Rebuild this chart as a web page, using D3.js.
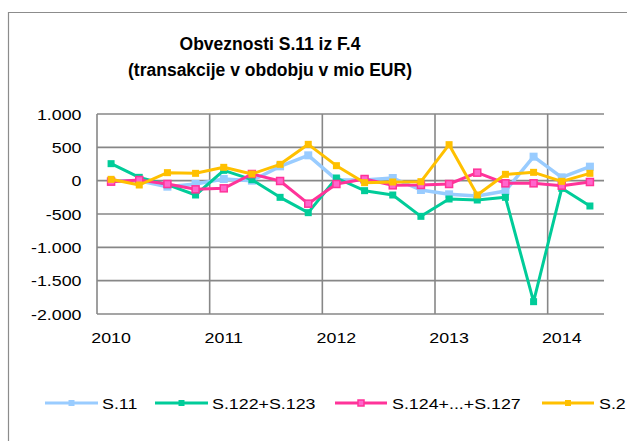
<!DOCTYPE html>
<html>
<head>
<meta charset="utf-8">
<script src="https://cdn.jsdelivr.net/npm/d3@7"></script>
<style>
  html, body { margin: 0; padding: 0; background: #fff; }
  svg { display: block; }
  text { font-family: "Liberation Sans", Arial, sans-serif; fill: #000; }
</style>
</head>
<body>
<svg id="chart" width="627" height="441"></svg>
<script>
// ---- data ----
const categories = ["2010Q1","2010Q2","2010Q3","2010Q4","2011Q1","2011Q2","2011Q3","2011Q4",
                    "2012Q1","2012Q2","2012Q3","2012Q4","2013Q1","2013Q2","2013Q3","2013Q4",
                    "2014Q1","2014Q2"];
const yearLabels = ["2010","2011","2012","2013","2014"];
const seriesNames = ["S.11","S.122+S.123","S.124+...+S.127","S.2"];
const s11   = [-5, 0, -90, -50, 25, 0, 215, 380, 15, 10, 40, -140, -205, -230, -155, 360, 50, 210];
const s122  = [255, 50, -60, -215, 155, 15, -250, -480, 40, -150, -215, -535, -275, -290, -250, -1815, -115, -380];
const s124  = [-15, 10, -50, -130, -115, 100, -5, -345, -50, 25, -70, -65, -50, 120, -40, -40, -75, -20];
const s2    = [20, -65, 120, 110, 200, 100, 245, 545, 225, -30, -20, -15, 540, -215, 95, 125, -10, 110];
const yTicks = [1000, 500, 0, -500, -1000, -1500, -2000];
const titleLines = ["Obveznosti S.11 iz F.4", "(transakcije v obdobju v mio EUR)"];

(function () {
  const styles = [
    {color: "#99CCFF", fill: "#99CCFF", stroke: "#99CCFF", size: 8, width: 3.5},
    {color: "#00CC99", fill: "#00CC99", stroke: "#00CC99", size: 7, width: 3},
    {color: "#FF3399", fill: "#FF66CC", stroke: "#FF3399", size: 7, width: 3},
    {color: "#FFC000", fill: "#FFC000", stroke: "#FFC000", size: 7, width: 3}
  ];
  const seriesData = [s11, s122, s124, s2];

  const svg = d3.select("#chart");
  const pLeft = 97, pRight = 604, pTop = 114, pBottom = 314;
  const gridColor = "#878787";

  svg.append("path")
    .attr("d", "M8.5,441 L8.5,12.5 L627,12.5")
    .attr("fill", "none").attr("stroke", "#8c8c8c").attr("stroke-width", 1.2);

  const title = svg.append("text").attr("text-anchor", "middle")
    .style("font-weight", "bold").style("font-size", "17.5px");
  title.append("tspan").attr("x", 270).attr("y", 50).text(titleLines[0]);
  title.append("tspan").attr("x", 270).attr("y", 76).text(titleLines[1]);

  const x = d3.scalePoint().domain(categories).range([pLeft, pRight]).padding(0.5);
  const step = x.step();
  const y = d3.scaleLinear().domain([-2000, 1000]).range([pBottom, pTop]);

  const loc = d3.formatLocale({decimal: ",", thousands: ".", grouping: [3], currency: ["", ""], minus: "-"});
  const fmt = loc.format(",d");

  svg.append("g").selectAll("line").data(yTicks).join("line")
    .attr("x1", pLeft).attr("x2", pRight)
    .attr("y1", d => y(d)).attr("y2", d => y(d))
    .attr("stroke", gridColor).attr("stroke-width", 1.6);

  const yearStarts = categories.filter(c => c.endsWith("Q1"));
  svg.append("g").selectAll("line").data(yearStarts).join("line")
    .attr("x1", d => x(d) - step / 2).attr("x2", d => x(d) - step / 2)
    .attr("y1", pTop).attr("y2", pBottom)
    .attr("stroke", gridColor).attr("stroke-width", 1.6);

  svg.append("g").selectAll("text").data(yTicks).join("text")
    .attr("transform", d => `translate(81.5,${y(d) + 5.5}) scale(1.15,1)`)
    .attr("text-anchor", "end").style("font-size", "15.5px")
    .text(d => fmt(d));

  svg.append("g").selectAll("text").data(yearStarts).join("text")
    .attr("transform", d => `translate(${x(d)},343) scale(1.15,1)`)
    .attr("text-anchor", "middle").style("font-size", "15.5px")
    .text((d, i) => yearLabels[i]);

  const line = d3.line().x((d, i) => x(categories[i])).y(d => y(d));
  seriesData.forEach((vals, si) => {
    const st = styles[si];
    const g = svg.append("g");
    g.append("path").datum(vals).attr("d", line)
      .attr("fill", "none").attr("stroke", st.color).attr("stroke-width", st.width)
      .attr("stroke-linejoin", "round");
    g.selectAll("rect").data(vals).join("rect")
      .attr("x", (d, i) => x(categories[i]) - st.size / 2)
      .attr("y", d => y(d) - st.size / 2)
      .attr("width", st.size).attr("height", st.size)
      .attr("fill", st.fill).attr("stroke", st.stroke).attr("stroke-width", si === 2 ? 1.5 : 0);
  });

  const legendItems = [
    {x1: 45, x2: 98, tx: 102},
    {x1: 155, x2: 208, tx: 212},
    {x1: 335, x2: 387, tx: 392},
    {x1: 542, x2: 594, tx: 599}
  ];
  const ly = 403;
  legendItems.forEach((it, i) => {
    const st = styles[i];
    svg.append("line").attr("x1", it.x1).attr("x2", it.x2).attr("y1", ly).attr("y2", ly)
      .attr("stroke", st.color).attr("stroke-width", 3);
    const ms = 6;
    svg.append("rect").attr("x", (it.x1 + it.x2) / 2 - ms / 2).attr("y", ly - ms / 2)
      .attr("width", ms).attr("height", ms)
      .attr("fill", st.fill).attr("stroke", st.stroke).attr("stroke-width", i === 2 ? 1.5 : 0);
    svg.append("text")
      .attr("transform", `translate(${it.tx},${ly + 5.5}) scale(1.15,1)`)
      .style("font-size", "15.5px").text(seriesNames[i]);
  });
})();
</script>
</body>
</html>
